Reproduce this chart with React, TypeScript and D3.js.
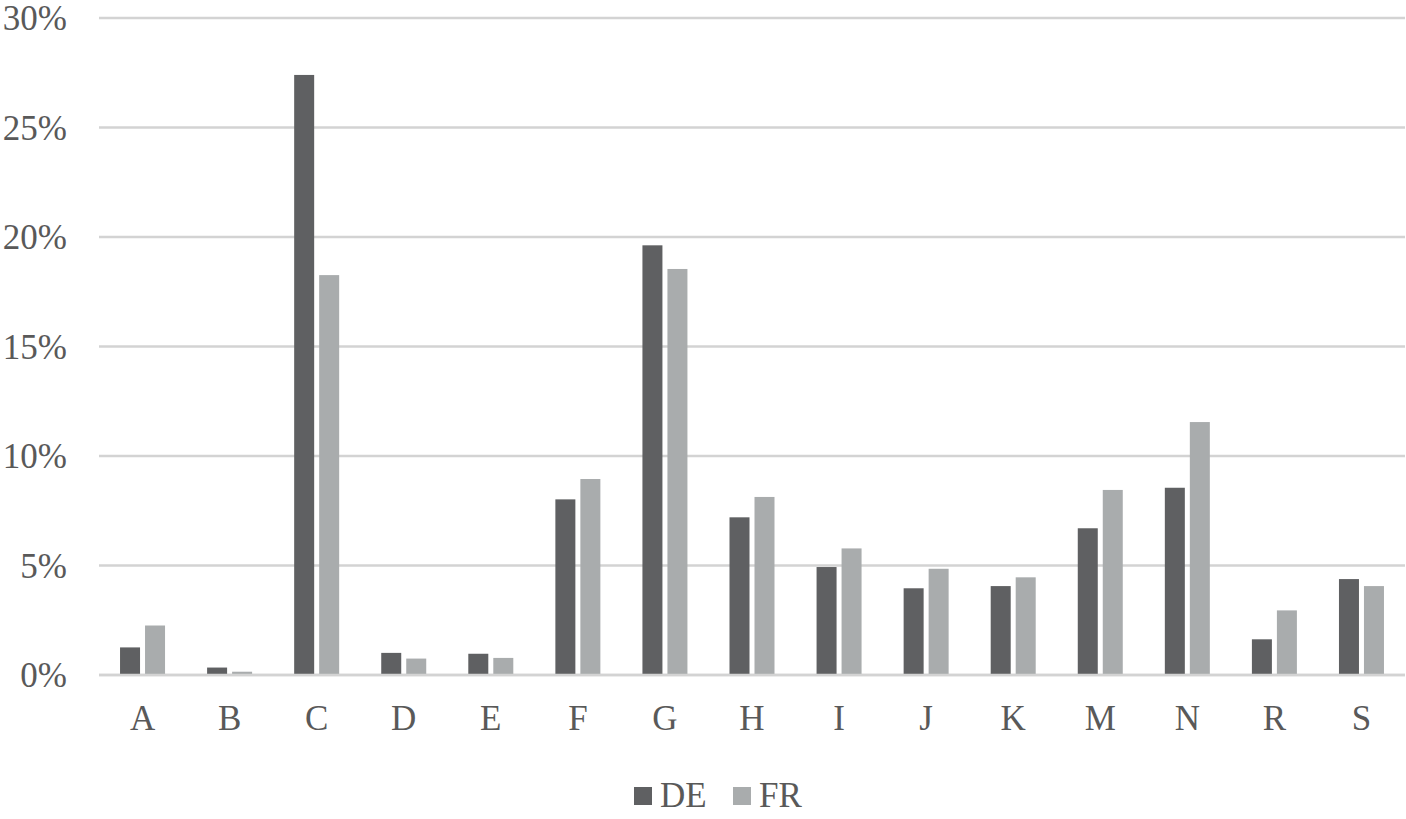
import React from "react";
import * as d3 from "d3";

const categories = ["A", "B", "C", "D", "E", "F", "G", "H", "I", "J", "K", "M", "N", "R", "S"];
const seriesNames = ["DE", "FR"];
const deValues = [1.26, 0.34, 27.4, 1.01, 0.97, 8.02, 19.62, 7.2, 4.93, 3.96, 4.06, 6.7, 8.55, 1.63, 4.38];
const frValues = [2.26, 0.15, 18.26, 0.75, 0.78, 8.95, 18.54, 8.13, 5.78, 4.85, 4.46, 8.45, 11.55, 2.95, 4.06];
const yTicks = [0, 5, 10, 15, 20, 25, 30];
const colors = ["#5f6062", "#a9acad"];

const W = 1406;
const H = 819;
const left = 99;
const right = 1405;
const top = 18;
const bottom = 675;
const font = "'Liberation Serif', 'Times New Roman', serif";
const textColor = "#595959";

export default function App() {
  const x = d3.scaleBand<string>().domain(categories).range([left, right]).padding(0);
  const y = d3.scaleLinear().domain([0, 30]).range([bottom, top]);
  const sub = d3.scaleBand<string>().domain(seriesNames).range([-22.5, 22.5]).paddingInner(0.2);
  const series = [deValues, frValues];
  const bw = sub.bandwidth();

  return (
    <svg width={W} height={H} style={{ position: "absolute", left: 0, top: 0, background: "#fff" }}>
      {yTicks.map((t) => (
        <g key={t}>
          <line x1={left} x2={right} y1={y(t)} y2={y(t)} stroke="#d3d3d3" strokeWidth={2.5} />
          <text x={67} y={y(t) + 12} textAnchor="end" fontFamily={font} fontSize={35} fill={textColor}>
            {t}%
          </text>
        </g>
      ))}
      {series.map((vals, si) =>
        vals.map((v, i) => {
          const cx = x(categories[i])! + x.bandwidth() / 2;
          const bx = cx + sub(seriesNames[si])!;
          return (
            <rect
              key={`${si}-${i}`}
              x={bx}
              y={y(v)}
              width={bw}
              height={y(0) - y(v)}
              fill={colors[si]}
            />
          );
        })
      )}
      <line x1={left} x2={right} y1={y(0)} y2={y(0)} stroke="#d3d3d3" strokeWidth={2.5} />
      {categories.map((c) => (
        <text
          key={c}
          x={x(c)! + x.bandwidth() / 2}
          y={730}
          textAnchor="middle"
          fontFamily={font}
          fontSize={35}
          fill={textColor}
        >
          {c}
        </text>
      ))}
      {seriesNames.map((s, i) => {
        const lx = [634, 733][i];
        return (
          <g key={s}>
            <rect x={lx} y={787} width={18} height={18} fill={colors[i]} />
            <text x={lx + 26} y={807} fontFamily={font} fontSize={35} fill={textColor}>
              {s}
            </text>
          </g>
        );
      })}
    </svg>
  );
}
